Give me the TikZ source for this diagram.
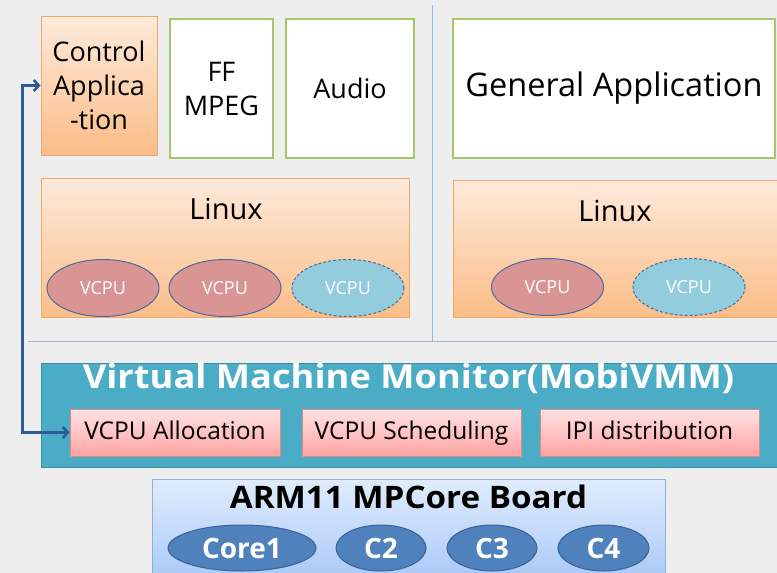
\documentclass[tikz,border=0pt]{standalone}
\usepackage{fontspec}
\setmainfont{Open Sans}
\usetikzlibrary{shapes.geometric,shadows,arrows.meta}
\definecolor{bg}{HTML}{EEEEEE}
\definecolor{orT}{HTML}{FDEADB}
\definecolor{orB}{HTML}{FBBD88}
\definecolor{orD}{HTML}{F3A766}
\definecolor{grn}{HTML}{A4C76A}
\definecolor{vred}{HTML}{D99594}
\definecolor{vblu}{HTML}{93CDDD}
\definecolor{vbrd}{HTML}{4A6A9C}
\definecolor{vmm}{HTML}{4BACC6}
\definecolor{vmmD}{HTML}{3A8FA6}
\definecolor{pkT}{HTML}{FFE3E3}
\definecolor{pkB}{HTML}{FFA3A3}
\definecolor{pkD}{HTML}{E08A88}
\definecolor{bdT}{HTML}{E0ECFC}
\definecolor{bdB}{HTML}{A5C6F7}
\definecolor{bdD}{HTML}{8FB0DA}
\definecolor{core}{HTML}{4F81BD}
\definecolor{coreD}{HTML}{3A6294}
\definecolor{sep}{HTML}{9CB6DA}
\definecolor{arr}{HTML}{2E5A95}
\tikzset{
  shd/.style={drop shadow={shadow xshift=1.2pt,shadow yshift=-1.2pt,opacity=0.25,fill=black!60}},
  orbox/.style={rectangle,inner sep=0pt,draw=orD,line width=0.9pt,top color=orT,bottom color=orB,shd,align=center},
  whbox/.style={rectangle,inner sep=0pt,draw=grn,line width=1.4pt,fill=white,align=center},
  vcpur/.style={ellipse,inner sep=0pt,minimum width=112pt,minimum height=57pt,fill=vred,draw=vbrd,line width=1pt,text=white,font=\fontsize{18}{20}\selectfont},
  vcpub/.style={ellipse,inner sep=0pt,minimum width=112pt,minimum height=57pt,fill=vblu,draw=vbrd,line width=1pt,dash pattern=on 3pt off 2pt,text=white,font=\fontsize{18}{20}\selectfont},
  subbox/.style={rectangle,inner sep=0pt,minimum height=47pt,text height=18pt,text depth=5pt,draw=pkD,line width=0.9pt,top color=pkT,bottom color=pkB,shd,font=\fontsize{24.5}{27}\selectfont},
  coreell/.style={ellipse,inner sep=0pt,minimum height=46pt,fill=core,draw=coreD,line width=1pt,text=white,font=\fontsize{28}{30}\selectfont\bfseries},
  big/.style={font=\fontsize{27}{34}\selectfont},
  sepline/.style={draw=sep,line width=1pt},
  myarrow/.style={draw=arr,line width=3pt,arrows={Straight Barb[length=5pt,width=11pt,line width=2.6pt]-Straight Barb[length=5pt,width=11pt,line width=2.6pt]}}
}
\begin{document}
\begin{tikzpicture}[x=1pt,y=-1pt]
\fill[bg] (0,0) rectangle (777,573);
\useasboundingbox (0,0) rectangle (777,573);
% separators
\draw[sepline] (432,5) -- (432,341);
\draw[sepline] (28,341) -- (777,341);
% top row
\node[orbox,minimum width=116pt,minimum height=139pt,big] (ctrl) at (99,85.5) {Control\\Applica\\-tion};
\node[whbox,minimum width=103pt,minimum height=139pt,big] (ff) at (221.5,88.5) {FF\\MPEG};
\node[whbox,minimum width=128pt,minimum height=139pt,big] (audio) at (350,88.5) {Audio};
\node[whbox,minimum width=322pt,minimum height=139pt,font=\fontsize{32.5}{38}\selectfont] (gen) at (614,88.5) {General Application};
% Linux boxes
\node[orbox,minimum width=368pt,minimum height=139pt] (linL) at (225,247.5) {};
\node[font=\fontsize{29}{34}\selectfont] (linLt) at (226,209) {Linux};
\node[orbox,minimum width=326pt,minimum height=137pt] (linR) at (616,248.5) {};
\node[font=\fontsize{29}{34}\selectfont] (linRt) at (615,211) {Linux};
\node[vcpur] (v1) at (103,288) {VCPU};
\node[vcpur] (v2) at (225,288) {VCPU};
\node[vcpub] (v3) at (348,288) {VCPU};
\node[vcpur] (v4) at (547.5,287) {VCPU};
\node[vcpub] (v5) at (689,287) {VCPU};
% VMM
\node[rectangle,inner sep=0pt,minimum width=738pt,minimum height=104pt,fill=vmm,draw=vmmD,line width=1pt] (vmm) at (410,415) {};
\node[text=white,font=\fontsize{33}{38}\selectfont\bfseries] (vmmt) at (408.5,378.5) {\scalebox{1.1}[1]{Virtual Machine Monitor(MobiVMM)}};
\node[subbox,minimum width=210pt] (alloc) at (175,432.5) {VCPU Allocation};
\node[subbox,minimum width=219pt] (sched) at (411.5,432.5) {VCPU Scheduling};
\node[subbox,minimum width=219pt] (ipi) at (649.5,432.5) {IPI distribution};
% arrow
\coordinate (bend) at (22,432.5);
\draw[myarrow] (ctrl.west) -| (bend) -- (alloc.west);
% board
\node[rectangle,inner sep=0pt,minimum width=513pt,minimum height=110pt,draw=bdD,line width=1pt,top color=bdT,bottom color=bdB] (board) at (408.5,534) {};
\node[font=\fontsize{31}{34}\selectfont\bfseries] (boardt) at (408.5,497) {\scalebox{1.07}[1]{ARM11 MPCore Board}};
\node[coreell,minimum width=148pt] (c1) at (242,548) {Core1};
\node[coreell,minimum width=90pt] (c2) at (381,548) {C2};
\node[coreell,minimum width=90pt] (c3) at (492,548) {C3};
\node[coreell,minimum width=91pt] (c4) at (603.5,548) {C4};
\end{tikzpicture}
\end{document}
